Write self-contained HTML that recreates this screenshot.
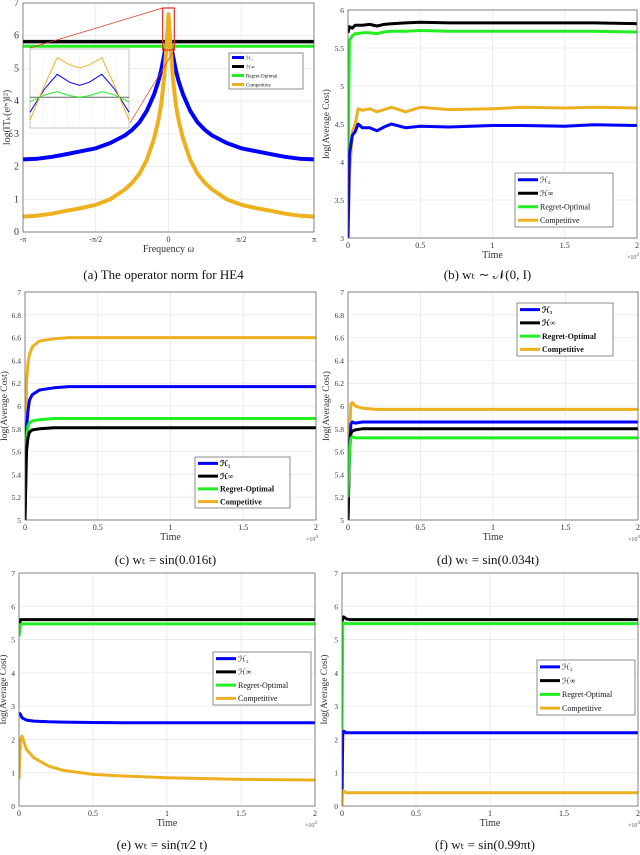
<!DOCTYPE html>
<html><head><meta charset="utf-8"><style>
html,body{margin:0;padding:0;background:#fff}
svg{display:block}
text{font-family:"Liberation Serif",serif}
</style></head><body>
<svg id="fig" width="640" height="855" viewBox="0 0 640 855" xmlns="http://www.w3.org/2000/svg"></svg>
<script>
// ---- data: panel (a) operator norm vs frequency (units of pi)
const aOmega = [-1,-0.9,-0.8,-0.7,-0.6,-0.5,-0.4,-0.3,-0.25,-0.2,-0.15,-0.1,-0.07,-0.05,-0.03,-0.015,0,0.015,0.03,0.05,0.07,0.1,0.15,0.2,0.25,0.3,0.4,0.5,0.6,0.7,0.8,0.9,1];
const aH2    = [2.22,2.24,2.3,2.38,2.47,2.56,2.72,2.95,3.12,3.35,3.7,4.2,4.6,4.95,5.4,5.75,5.9,5.75,5.4,4.95,4.6,4.2,3.7,3.35,3.12,2.95,2.72,2.56,2.47,2.38,2.3,2.24,2.22];
const aComp  = [0.47,0.5,0.56,0.65,0.73,0.83,1.0,1.3,1.5,1.78,2.2,2.85,3.4,3.9,4.7,5.6,6.65,5.6,4.7,3.9,3.4,2.85,2.2,1.78,1.5,1.3,1.0,0.83,0.73,0.65,0.56,0.5,0.47];
const aHinf  = [5.82,5.82];
const aReg   = [5.68,5.68];
const aConstX = [-1,1];
// inset (normalised)
const insetX    = [-1,-0.7,-0.45,-0.2,0,0.2,0.45,0.7,1];
const insetComp = [0.1,0.55,0.89,0.8,0.76,0.8,0.89,0.55,0.1];
const insetH2   = [0.2,0.5,0.68,0.58,0.54,0.58,0.68,0.5,0.2];
const insetReg  = [0.33,0.42,0.46,0.41,0.39,0.41,0.46,0.42,0.33];
const insetHinf = [0.39,0.39,0.39,0.39,0.39,0.39,0.39,0.39,0.39];
// panel (b)
const bT    = [0,0.01,0.03,0.05,0.07,0.1,0.15,0.2,0.25,0.3,0.4,0.5,0.7,1,1.2,1.5,1.7,2];
const bHinf = [5.7,5.78,5.76,5.8,5.8,5.8,5.81,5.79,5.81,5.82,5.83,5.84,5.83,5.83,5.83,5.83,5.83,5.82];
const bReg  = [3.8,5.6,5.66,5.69,5.69,5.7,5.7,5.69,5.71,5.72,5.72,5.73,5.72,5.72,5.72,5.72,5.72,5.71];
const bH2   = [3.0,4.1,4.35,4.4,4.5,4.45,4.45,4.41,4.46,4.5,4.45,4.47,4.46,4.48,4.48,4.47,4.49,4.48];
const bComp = [3.0,3.8,4.4,4.5,4.7,4.68,4.7,4.66,4.69,4.72,4.66,4.72,4.69,4.7,4.72,4.71,4.72,4.71];
// panel (c)
const cT    = [0,0.01,0.02,0.03,0.05,0.1,0.2,0.3,0.5,1,2];
const cComp = [5,6.2,6.37,6.45,6.52,6.57,6.59,6.6,6.6,6.6,6.6];
const cH2   = [5,5.8,5.95,6.05,6.1,6.14,6.16,6.17,6.17,6.17,6.17];
const cReg  = [5.2,5.7,5.82,5.85,5.87,5.88,5.89,5.89,5.89,5.89,5.89];
const cHinf = [5,5.6,5.72,5.77,5.79,5.8,5.81,5.81,5.81,5.81,5.81];
// panel (d)
const dT    = [0,0.01,0.02,0.03,0.05,0.1,0.2,0.5,1,2];
const dComp = [5,5.7,6.02,6.03,6.0,5.98,5.97,5.97,5.97,5.97];
const dH2   = [5,5.6,5.84,5.86,5.85,5.86,5.86,5.86,5.86,5.86];
const dHinf = [5,5.6,5.76,5.78,5.79,5.8,5.8,5.8,5.8,5.8];
const dReg  = [5.2,5.6,5.72,5.73,5.72,5.72,5.72,5.72,5.72,5.72];
// panel (e)
const eT    = [0,0.01,0.02,0.05,0.1,0.2,0.3,0.5,0.7,1,1.5,2];
const eHinf = [5.4,5.6,5.6,5.6,5.6,5.6,5.6,5.6,5.6,5.6,5.6,5.6];
const eReg  = [5.1,5.45,5.47,5.47,5.47,5.47,5.47,5.47,5.47,5.47,5.47,5.47];
const eH2   = [2.8,2.75,2.65,2.58,2.55,2.53,2.52,2.51,2.5,2.5,2.5,2.5];
const eComp = [0.8,2.0,2.1,1.7,1.45,1.2,1.07,0.95,0.9,0.85,0.8,0.78];
// panel (f)
const fT    = [0,0.005,0.01,0.03,0.05,0.1,2];
const fHinf = [5.5,5.65,5.68,5.62,5.6,5.6,5.6];
const fReg  = [2.3,5.4,5.5,5.48,5.48,5.48,5.48];
const fH2   = [0.2,2.1,2.25,2.2,2.2,2.2,2.2];
const fComp = [0,0.45,0.45,0.4,0.4,0.4,0.4];
// tick labels
const timeTicks = [0,0.5,1,1.5,2];
const timeTickLabels = ["0","0.5","1","1.5","2"];
const freqTicks = [-1,-0.5,0,0.5,1];
const freqTickLabels = ["-\u03c0","-\u03c0/2","0","\u03c0/2","\u03c0"];
const yTicksA = [0,1,2,3,4,5,6,7];
const yTicksB = [3,3.5,4,4.5,5,5.5,6];
const yTicksCD = [5,5.2,5.4,5.6,5.8,6,6.2,6.4,6.6,6.8,7];
const yTicksEF = [0,1,2,3,4,5,6,7];

const C = {h2:'#0000ff', hinf:'#000000', reg:'#22ee22', comp:'#edb120'};
const NS = 'http://www.w3.org/2000/svg';
const svg = document.getElementById('fig');
function mk(tag, attrs, parent, txt){
  const e = document.createElementNS(NS, tag);
  for (const k in attrs) e.setAttribute(k, attrs[k]);
  if (txt !== undefined) e.textContent = txt;
  (parent||svg).appendChild(e);
  return e;
}
function panel(p){
  const g = mk('g', {});
  
  
  const sx = v => p.x0 + (v - p.xd[0]) / (p.xd[1] - p.xd[0]) * (p.x1 - p.x0);
  const sy = v => p.y0 - (v - p.yd[0]) / (p.yd[1] - p.yd[0]) * (p.y0 - p.y1);
  p.xt.forEach((t,i) => {
    const X = sx(t);
    mk('line', {x1:X,x2:X,y1:p.y1,y2:p.y0,stroke:'#e8e8e8','stroke-width':0.8}, g);
    const lbl = mk('text', {x:X,y:p.y0+10,'font-size':8,'text-anchor':'middle',fill:'#333'}, g, p.xl[i]);
    
    
  });
  p.yt.forEach(t => {
    const Y = sy(t);
    mk('line', {x1:p.x0,x2:p.x1,y1:Y,y2:Y,stroke:'#e8e8e8','stroke-width':0.8}, g);
    const lbl = mk('text', {x:p.x0-4,y:Y+3,'font-size':p.yfs||7.5,'text-anchor':'end',fill:'#333'}, g, String(t));
    
    
  });
  const clip = 'clip-' + p.id;
  const cp = mk('clipPath', {id:clip}, g);
  mk('rect', {x:p.x0,y:p.y1,width:p.x1-p.x0,height:p.y0-p.y1}, cp);
  p.series.forEach(s => {
    const pts = s.y.map((v,i) => sx(s.x[i]).toFixed(1)+','+sy(v).toFixed(1)).join(' ');
    const pl = mk('polyline', {points:pts,fill:'none',stroke:C[s.k],'stroke-width':s.w||3,'stroke-linejoin':'round','clip-path':'url(#'+clip+')'}, g);
    
    
  });
  const ax = mk('rect', {x:p.x0,y:p.y1,width:p.x1-p.x0,height:p.y0-p.y1,fill:'none',stroke:'#555','stroke-width':0.7}, g);
  
  
  const xl = mk('text', {x:(p.x0+p.x1)/2,y:p.y0+20,'font-size':10,'text-anchor':'middle',fill:'#333'}, g, p.xlabel);
  
  
  if (p.exp){
    const ex = mk('text', {x:p.x1-10,y:p.y0+21,'font-size':6,fill:'#555'}, g, '\u00d710');
    mk('tspan', {dy:-3,'font-size':5}, ex, '4');
    
    
  }
  const yl = mk('text', {x:0,y:0,'font-size':p.ylfs||9.5,'text-anchor':'middle',fill:'#333',transform:'translate('+p.ylx+','+((p.y0+p.y1)/2)+') rotate(-90)'}, g, p.ylabel);
  
  
  const cap = mk('text', {x:(p.x0+p.x1)/2-5,y:p.capY,'font-size':13,'text-anchor':'middle',fill:'#111'}, g, p.caption);
  
  
  const L = p.leg;
  const lg = mk('g', {}, g);
  
  
  mk('rect', {x:L.x,y:L.y,width:L.w,height:L.h,fill:'#fff',stroke:'#444','stroke-width':0.6}, lg);
  const names = [['h2','\u210b\u2082'],['hinf','\u210b\u221e'],['reg','Regret-Optimal'],['comp','Competitive']];
  const rh = L.h/4;
  names.forEach((n,i) => {
    const Y = L.y + rh*(i+0.5);
    const ln = mk('line', {x1:L.x+3,x2:L.x+3+L.lw,y1:Y,y2:Y,stroke:C[n[0]],'stroke-width':L.sw||3}, lg);
    
    
    const t = mk('text', {x:L.x+5+L.lw,y:Y+L.fs*0.35,'font-size':L.fs,fill:'#111','font-weight':L.bold?'bold':'normal'}, lg, n[1]);
    
    
  });
  return {g, sx, sy};
}

// (a)
const pa = panel({id:'a', x0:23,x1:314,y0:232,y1:3, xd:[-1,1], yd:[0,7], xt:freqTicks, xl:freqTickLabels, yt:yTicksA, yfs:10,
  series:[{k:'h2',x:aOmega,y:aH2,w:4},{k:'hinf',x:aConstX,y:aHinf,w:3.5},{k:'reg',x:aConstX,y:aReg,w:3},{k:'comp',x:aOmega,y:aComp,w:4}],
  xlabel:'Frequency \u03c9', ylabel:'log(\u2016T\u2096(e\u02b2\u02b7)\u2016\u00b2)', ylx:10, ylfs:10, capY:279, caption:'(a) The operator norm for HE4',
  leg:{x:229,y:53,w:74,h:36,lw:12,fs:5,sw:3}});
(function(){
  const g = mk('g', {});
  
  
  const X0=30,X1=129,Y0=128,Y1=49;
  mk('rect', {x:X0,y:Y1,width:X1-X0,height:Y0-Y1,fill:'#fff',stroke:'#888','stroke-width':0.5}, g);
  for (let i=1;i<8;i++) mk('line',{x1:X0+i*(X1-X0)/8,x2:X0+i*(X1-X0)/8,y1:Y1,y2:Y0,stroke:'#eee','stroke-width':0.5},g);
  const ix = v => X0 + (v+1)/2*(X1-X0);
  const iy = v => Y0 - v*(Y0-Y1);
  [['hinf',insetHinf,'#666'],['reg',insetReg,C.reg],['h2',insetH2,C.h2],['comp',insetComp,C.comp]].forEach(s=>{
    const pts = s[1].map((v,i)=>ix(insetX[i]).toFixed(1)+','+iy(v).toFixed(1)).join(' ');
    const pl = mk('polyline',{points:pts,fill:'none',stroke:s[2],'stroke-width':1},g);
    
    
  });
  const zb = mk('rect',{x:pa.sx(-0.04),y:8,width:pa.sx(0.04)-pa.sx(-0.04),height:42,fill:'none',stroke:'#e03020','stroke-width':1.2});
  
  
  mk('line',{x1:pa.sx(-0.04),y1:8,x2:30,y2:48,stroke:'#e03020','stroke-width':0.7});
  mk('line',{x1:pa.sx(0.04),y1:50,x2:130,y2:123,stroke:'#e03020','stroke-width':0.7});
})();
// (b)
panel({id:'b', x0:348,x1:637,y0:238,y1:10, xd:[0,2], yd:[3,6], xt:timeTicks, xl:timeTickLabels, yt:yTicksB, exp:true,
  series:[{k:'hinf',x:bT,y:bHinf},{k:'reg',x:bT,y:bReg},{k:'comp',x:bT,y:bComp},{k:'h2',x:bT,y:bH2}],
  xlabel:'Time', ylabel:'log(Average Cost)', ylx:329, capY:279, caption:'(b) w\u209c \u223c \ud835\udca9(0, I)',
  leg:{x:515,y:173,w:98,h:54,lw:20,fs:8,bold:false}});
// (c)
panel({id:'c', x0:25,x1:316,y0:520,y1:292, xd:[0,2], yd:[5,7], xt:timeTicks, xl:timeTickLabels, yt:yTicksCD, exp:true,
  series:[{k:'comp',x:cT,y:cComp},{k:'h2',x:cT,y:cH2},{k:'reg',x:cT,y:cReg},{k:'hinf',x:cT,y:cHinf}],
  xlabel:'Time', ylabel:'log(Average Cost)', ylx:7, capY:564, caption:'(c) w\u209c = sin(0.016t)',
  leg:{x:195,y:457,w:95,h:51,lw:20,fs:8,bold:true}});
// (d)
panel({id:'d', x0:348,x1:638,y0:520,y1:292, xd:[0,2], yd:[5,7], xt:timeTicks, xl:timeTickLabels, yt:yTicksCD, exp:true,
  series:[{k:'comp',x:dT,y:dComp},{k:'h2',x:dT,y:dH2},{k:'hinf',x:dT,y:dHinf},{k:'reg',x:dT,y:dReg}],
  xlabel:'Time', ylabel:'log(Average Cost)', ylx:329, capY:564, caption:'(d) w\u209c = sin(0.034t)',
  leg:{x:517,y:303,w:96,h:53,lw:20,fs:8,bold:true}});
// (e)
panel({id:'e', x0:19,x1:315,y0:806,y1:573, xd:[0,2], yd:[0,7], xt:timeTicks, xl:timeTickLabels, yt:yTicksEF, exp:true,
  series:[{k:'hinf',x:eT,y:eHinf},{k:'reg',x:eT,y:eReg},{k:'h2',x:eT,y:eH2},{k:'comp',x:eT,y:eComp}],
  xlabel:'Time', ylabel:'log(Average Cost)', ylx:6, capY:849, caption:'(e) w\u209c = sin(\u03c0\u20442 t)',
  leg:{x:213,y:652,w:98,h:53,lw:20,fs:8}});
// (f)
panel({id:'f', x0:342,x1:638,y0:806,y1:573, xd:[0,2], yd:[0,7], xt:timeTicks, xl:timeTickLabels, yt:yTicksEF, exp:true,
  series:[{k:'hinf',x:fT,y:fHinf},{k:'reg',x:fT,y:fReg},{k:'h2',x:fT,y:fH2},{k:'comp',x:fT,y:fComp}],
  xlabel:'Time', ylabel:'log(Average Cost)', ylx:327, capY:849, caption:'(f) w\u209c = sin(0.99\u03c0t)',
  leg:{x:537,y:660,w:98,h:55,lw:20,fs:8}});
</script>
</body></html>
